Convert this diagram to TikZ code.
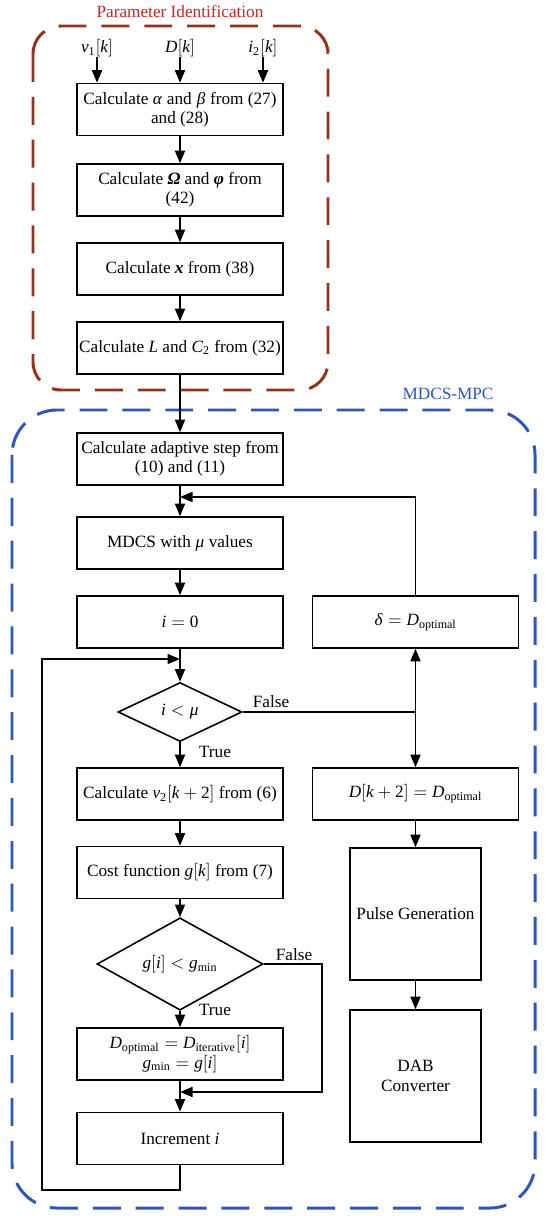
\documentclass[tikz,border=0pt]{standalone}
\usepackage{amsmath}
\usepackage{mathspec}
\setmainfont{Liberation Serif}
\setmathsfont(Digits,Latin,Greek){Liberation Serif}
\usetikzlibrary{arrows.meta, shapes.geometric}
\definecolor{PIframe}{RGB}{150,50,25}
\definecolor{PItitle}{RGB}{205,35,35}
\definecolor{MPCblue}{RGB}{45,85,190}
\newcommand{\bfit}[1]{\textbf{\textit{#1}}}

\begin{document}
\begin{tikzpicture}[x=0.02cm, y=-0.02cm, font=\fontsize{9.8}{11}\selectfont,
  box/.style={draw, line width=0.9pt, minimum width=4.12cm, minimum height=1.04cm, align=center, inner sep=1pt},
  sqbox/.style={draw, line width=0.9pt, minimum width=2.62cm, minimum height=2.64cm, align=center, inner sep=1pt},
  dbox/.style={draw, diamond, line width=0.9pt, inner sep=0pt},
  wire/.style={line width=0.9pt},
  arr/.style={wire, -{Triangle[length=2.5mm, width=2mm]}},
  lbl/.style={inner sep=0pt},
  frame/.style={line width=1.7pt, dash pattern=on 15.9pt off 8.5pt}]
  \useasboundingbox (0,0) rectangle (550,1216);

  % dashed frames
  \draw[frame, PIframe, rounded corners=0.56cm] (33,26) rectangle (328,390);
  \draw[frame, MPCblue, rounded corners=0.9cm] (12,410) rectangle (535,1208);
  \node[lbl, text=PItitle] (tPI) at (180,12) {Parameter Identification};
  \node[lbl, text=MPCblue] (tMPC) at (448,394) {MDCS-MPC};

  % inputs
  \node[lbl] (inV) at (97,48) {$v_1[k]$};
  \node[lbl] (inD) at (180,48) {$D[k]$};
  \node[lbl] (inI) at (263,48) {$i_2[k]$};

  % parameter identification
  \node[box] (b1) at (180,109.5) {Calculate $\alpha$ and $\beta$ from (27)\\and (28)};
  \node[box] (b2) at (180,190) {Calculate \bfit{Ω} and \bfit{φ} from\\(42)};
  \node[box] (b3) at (180,269) {Calculate \bfit{x} from (38)};
  \node[box] (b4) at (180,348) {Calculate $L$ and $C_2$ from (32)};

  % MDCS-MPC, left column
  \node[box] (b5) at (180,459) {Calculate adaptive step from\\(10) and (11)};
  \node[box] (b6) at (180,543) {MDCS with $\mu$ values};
  \node[box] (b7) at (180,622) {$i = 0$};
  \node[dbox, minimum width=2.48cm, minimum height=1.18cm] (d1) at (180,712) {$i < \mu$};
  \node[box] (b8) at (180,794) {Calculate $v_2[k+2]$ from (6)};
  \node[box] (b9) at (180,872.5) {Cost function $g[k]$ from (7)};
  \node[dbox, minimum width=3.32cm, minimum height=1.4cm] (d2) at (180,964) {$g[i] < g_{\text{min}}$};
  \node[box] (b10) at (180,1054) {$D_{\text{optimal}} = D_{\text{iterative}}[i]$\\$g_{\text{min}} = g[i]$};
  \node[box] (b11) at (180,1138.5) {Increment $i$};

  % MDCS-MPC, right column
  \node[box] (delta) at (415.5,622) {$\delta = D_{\text{optimal}}$};
  \node[box] (dk) at (415.5,794) {$D[k+2] = D_{\text{optimal}}$};
  \node[sqbox] (pulse) at (415.5,914) {Pulse Generation};
  \node[sqbox] (dab) at (415.5,1076) {DAB\\Converter};

  % branch labels
  \node[lbl] (f1) at (271,702) {False};
  \node[lbl] (t1) at (215,752) {True};
  \node[lbl] (f2) at (294,955) {False};
  \node[lbl] (t2) at (215,1010) {True};

  % junctions
  \coordinate (jTop) at (180,497);
  \coordinate (jLoop) at (180,659);
  \coordinate (jF) at (415.5,712);
  \coordinate (jM) at (180,1092);
  \coordinate (fR) at (322,964);
  \coordinate (lpL) at (42,1190);

  % connectors
  \foreach \n in {inV, inD, inI}{
    \draw[arr] (\n.south) -- (\n.south |- b1.north);
  }
  \draw[arr] (b1) -- (b2);
  \draw[arr] (b2) -- (b3);
  \draw[arr] (b3) -- (b4);
  \draw[arr] (b4) -- (b5);
  \draw[arr] (b5) -- (b6);
  \draw[arr] (delta.north) |- (jTop);
  \draw[arr] (b6) -- (b7);
  \draw[arr] (b7) -- (d1);
  \draw[wire] (d1.east) -- (jF);
  \draw[arr] (jF) -- (delta.south);
  \draw[arr] (jF) -- (dk.north);
  \draw[arr] (d1) -- (b8);
  \draw[arr] (b8) -- (b9);
  \draw[arr] (b9) -- (d2);
  \draw[arr] (d2) -- (b10);
  \draw[arr] (d2.east) -| (jM -| fR) -- (jM);
  \draw[arr] (b10) -- (b11);
  \draw[arr] (b11.south) |- (lpL) |- (jLoop);
  \draw[arr] (dk) -- (pulse);
  \draw[arr] (pulse) -- (dab);
\end{tikzpicture}
\end{document}
